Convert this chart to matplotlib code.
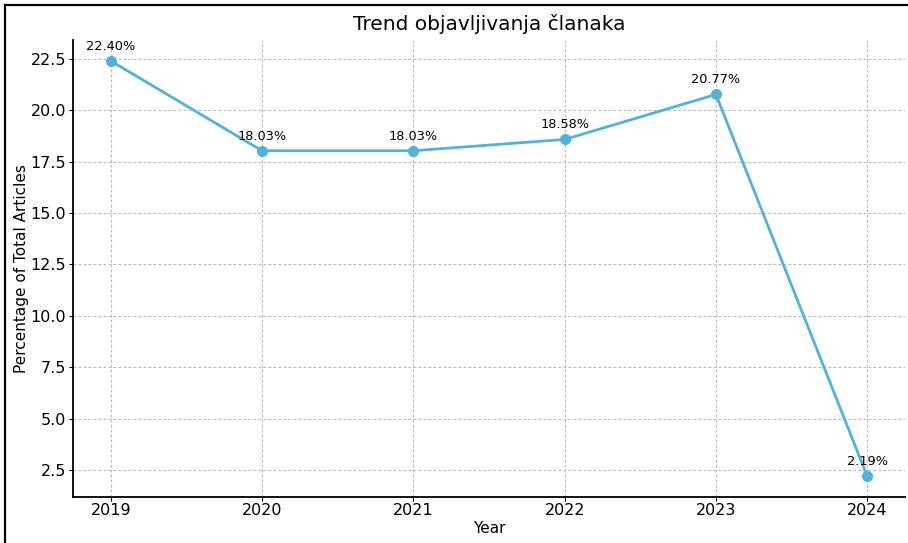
import matplotlib
matplotlib.use("Agg")
import matplotlib.pyplot as plt
from matplotlib.lines import Line2D

years = [2019, 2020, 2021, 2022, 2023, 2024]
percentages = [22.40, 18.03, 18.03, 18.58, 20.77, 2.19]

fig = plt.figure(figsize=(9.08, 5.43), dpi=100)
ax = fig.add_axes([0.0804, 0.0847, 0.9163, 0.8413])

ax.plot(years, percentages, marker='o', color='#52B2DE', linewidth=2, markersize=7)

for x, y in zip(years, percentages):
    ax.annotate(f"{y:.2f}%", (x, y), textcoords="offset points", xytext=(0, 8),
                ha='center', fontsize=9.3)

ax.set_title('Trend objavljivanja članaka', fontsize=14.5, pad=7)
ax.set_xlabel('Year', fontsize=11, labelpad=2)
ax.set_ylabel('Percentage of Total Articles', fontsize=11, labelpad=1)
ax.set_xticks(years)
ax.tick_params(labelsize=11.5, length=3, pad=2)
ax.tick_params(axis='x', pad=1.5)
ax.grid(True, linestyle=(0, (2.5, 2)), color='#b8b8b8', linewidth=0.8)
ax.spines['top'].set_visible(False)
ax.spines['right'].set_visible(False)
ax.spines['left'].set_linewidth(1.3)
ax.spines['bottom'].set_linewidth(1.3)

# outer frame (top and left edges only, picture is cropped)
fig.add_artist(Line2D([0.005, 1.0], [0.991, 0.991], transform=fig.transFigure, color='black', linewidth=1.6))
fig.add_artist(Line2D([0.006, 0.006], [0.0, 0.991], transform=fig.transFigure, color='black', linewidth=1.6))

fig.savefig('out.png', dpi=100)
